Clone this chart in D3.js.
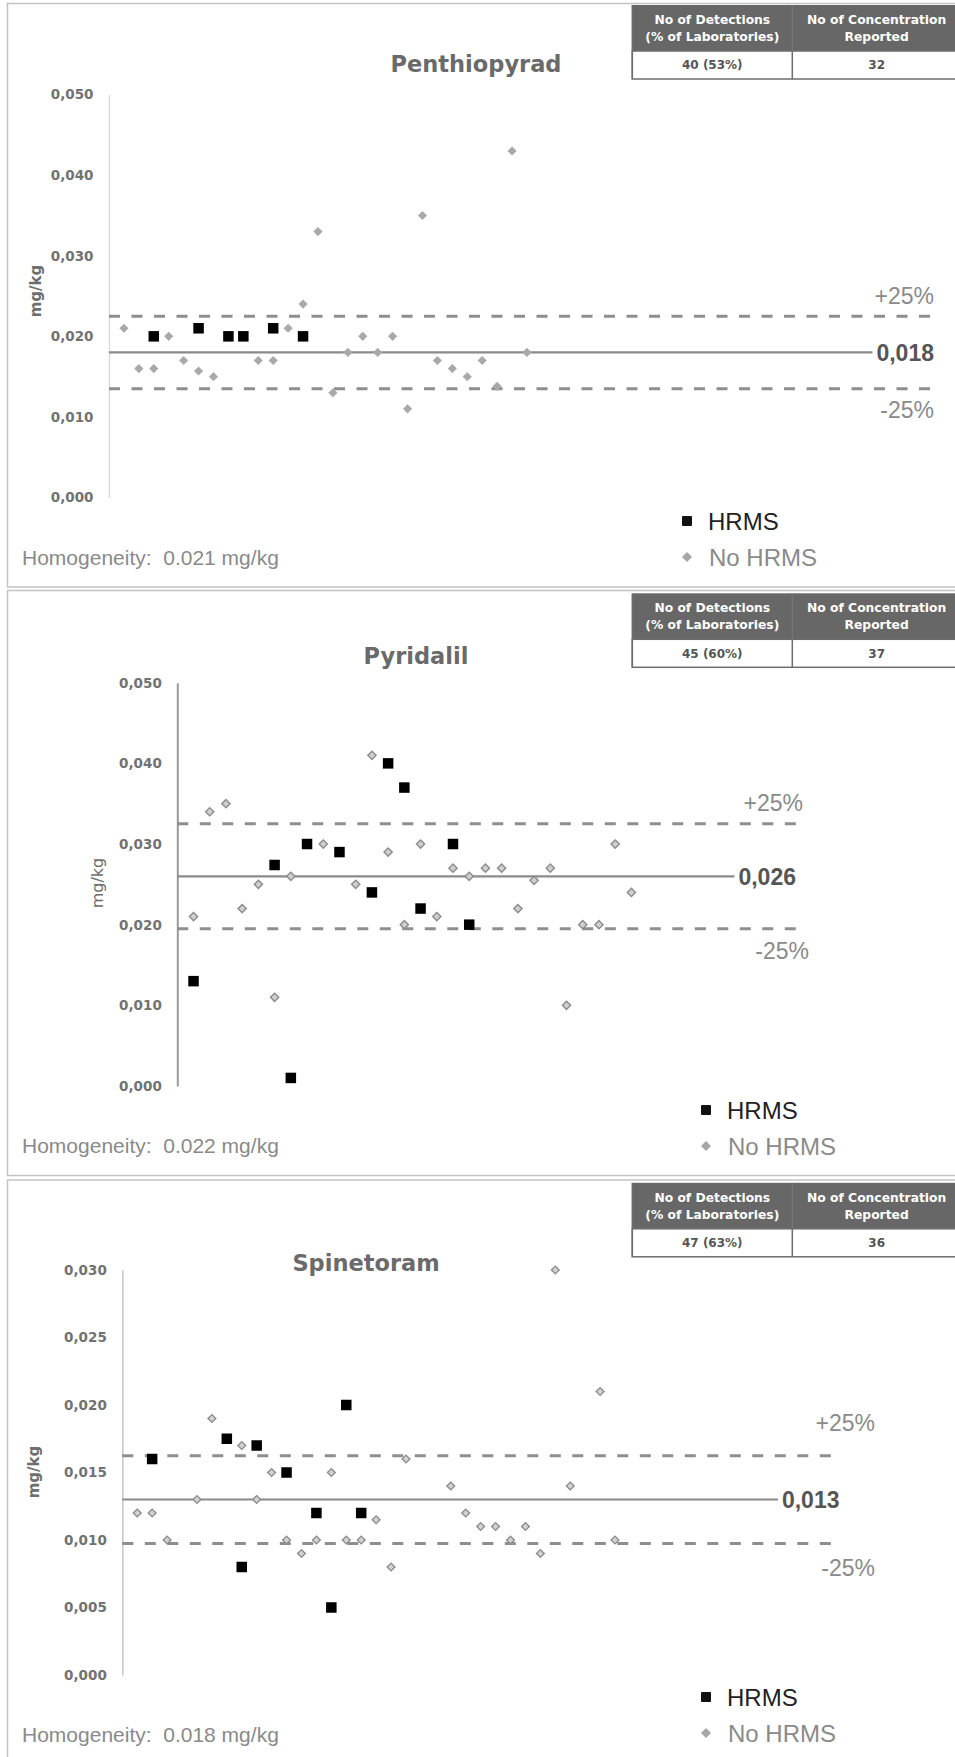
<!DOCTYPE html>
<html>
<head>
<meta charset="utf-8">
<script src="https://cdn.jsdelivr.net/npm/d3@7"></script>
<style>
body { margin: 0; background: #fff; }
svg { display: block; }
</style>
</head>
<body>
<div id="chart"></div>
<script>
var titles = ["Penthiopyrad", "Pyridalil", "Spinetoram"];
var assigned = [0.018, 0.026, 0.013];
var homogeneity = ["0.021", "0.022", "0.018"];
var detections = ["40 (53%)", "45 (60%)", "47 (63%)"];
var reported = ["32", "37", "36"];
var yMax = [0.05, 0.05, 0.03];
var yTicks = [
    [0, 0.01, 0.02, 0.03, 0.04, 0.05],
    [0, 0.01, 0.02, 0.03, 0.04, 0.05],
    [0, 0.005, 0.01, 0.015, 0.02, 0.025, 0.03]
];

var pentLabNo = [1, 2, 3, 4, 5, 6, 7, 10, 11, 12, 13, 14, 15, 16, 17, 18, 19, 20, 21, 22, 23, 24, 25, 26, 27, 28];
var pentValNo = [0.021, 0.016, 0.016, 0.020, 0.017, 0.0157, 0.015, 0.017, 0.017, 0.021, 0.024, 0.033, 0.013,
                 0.018, 0.020, 0.018, 0.020, 0.011, 0.035, 0.017, 0.016, 0.015, 0.017, 0.0138, 0.043, 0.018];
var pentLabHrms = [3, 6, 8, 9, 11, 13];
var pentValHrms = [0.020, 0.021, 0.020, 0.020, 0.021, 0.020];

var pyrLabNo = [1, 2, 3, 4, 5, 6, 7, 9, 11, 12, 13, 14, 15, 16, 17, 18, 19, 20, 21, 22, 23, 24, 25, 26, 27, 28];
var pyrValNo = [0.021, 0.034, 0.035, 0.022, 0.025, 0.011, 0.026, 0.030, 0.025, 0.041, 0.029, 0.020, 0.030,
                0.021, 0.027, 0.026, 0.027, 0.027, 0.022, 0.0255, 0.027, 0.010, 0.020, 0.020, 0.030, 0.024];
var pyrLabHrms = [1, 6, 7, 8, 10, 12, 13, 14, 15, 17, 18];
var pyrValHrms = [0.013, 0.0274, 0.001, 0.030, 0.029, 0.024, 0.040, 0.037, 0.022, 0.030, 0.020];

var spiLabNo = [1, 2, 3, 5, 6, 8, 9, 10, 11, 12, 13, 14, 15, 16, 17, 18, 19, 22, 23, 24, 25, 26, 27, 28, 29, 30, 32, 33];
var spiValNo = [0.012, 0.012, 0.010, 0.013, 0.019, 0.017, 0.013, 0.015, 0.010, 0.009, 0.010, 0.015, 0.010, 0.010,
                0.0115, 0.008, 0.016, 0.014, 0.012, 0.011, 0.011, 0.010, 0.011, 0.009, 0.030, 0.014, 0.021, 0.010];
var spiLabHrms = [2, 7, 8, 9, 11, 13, 14, 15, 16];
var spiValHrms = [0.016, 0.0175, 0.008, 0.017, 0.015, 0.012, 0.005, 0.020, 0.012];

var noHrms = [[pentLabNo, pentValNo], [pyrLabNo, pyrValNo], [spiLabNo, spiValNo]];
var hrms = [[pentLabHrms, pentValHrms], [pyrLabHrms, pyrValHrms], [spiLabHrms, spiValHrms]];

// page layout of each panel (pixels)
var layout = [
    {top: 3.5, bottom: 587, axisX: 109, xEnd: 930, xMaxLab: 55, yBottom: 497.5, yTop: 94.6,
     plusX: 934, plusDy: -20, meanX: 934, minusX: 934, minusDy: 21, titleX: 476, titleY: 64,
     legendX: 687, legendY: 521, homY: 557, ylabX: 36, ylabY: 291, ylabWeight: "bold",
     axisColor: "#dcdcdc", axisWidth: 1.5, dFill: "#a9a9a9", dStroke: "none", dSize: 42},
    {top: 590.5, bottom: 1175.5, axisX: 177.3, xEnd: 803.3, xMaxLab: 38.6, yBottom: 1086, yTop: 682.7,
     plusX: 803, plusDy: -21, meanX: 796, minusX: 809, minusDy: 22, titleX: 416, titleY: 656,
     legendX: 706, legendY: 1110, homY: 1145, ylabX: 97, ylabY: 883, ylabWeight: "normal",
     axisColor: "#9a9a9a", axisWidth: 2, dFill: "#cfcfcf", dStroke: "#8c8c8c", dSize: 34},
    {top: 1180, bottom: 1765, axisX: 122.3, xEnd: 839, xMaxLab: 48, yBottom: 1675, yTop: 1270,
     plusX: 875, plusDy: -33, meanX: 839.5, minusX: 875, minusDy: 24, titleX: 366, titleY: 1263,
     legendX: 706, legendY: 1697, homY: 1734, ylabX: 33.5, ylabY: 1472, ylabWeight: "bold",
     axisColor: "#c4c4c4", axisWidth: 1.5, dFill: "#d2d2d2", dStroke: "#8c8c8c", dSize: 30}
];

var W = 955, H = 1757;
var svg = d3.select("#chart").append("svg")
    .attr("width", W)
    .attr("height", H);

var fmtTick = function(v) { return d3.format(".3f")(v).replace(".", ","); };
var gothic = "'DejaVu Sans', sans-serif";
var arial = "'Liberation Sans', Arial, sans-serif";
var tableLeft = 632.3, tableMid = 792.3, tableRight = 961;

layout.forEach(function(L, p) {
    var g = svg.append("g");

    // panel frame
    g.append("rect")
        .attr("x", 7.5).attr("y", L.top)
        .attr("width", W + 10).attr("height", L.bottom - L.top)
        .attr("fill", "none").attr("stroke", "#c3c3c3").attr("stroke-width", 1.5);

    var x = d3.scaleLinear().domain([0, L.xMaxLab]).range([L.axisX, L.xEnd]);
    var y = d3.scaleLinear().domain([0, yMax[p]]).range([L.yBottom, L.yTop]);

    // y axis: line + tick labels only
    var yAxis = d3.axisLeft(y).tickValues(yTicks[p]).tickFormat(fmtTick).tickSize(0).tickPadding(15.5);
    var ax = g.append("g").attr("transform", "translate(" + L.axisX + ",0)").call(yAxis);
    ax.select(".domain").attr("stroke", L.axisColor).attr("stroke-width", L.axisWidth);
    ax.selectAll("text")
        .attr("font-family", gothic).attr("font-weight", "bold")
        .attr("font-size", "13.5px").attr("fill", "#727272");

    g.append("text")
        .attr("transform", "translate(" + L.ylabX + "," + L.ylabY + ") rotate(-90)")
        .attr("text-anchor", "middle").attr("dy", "0.35em")
        .attr("font-family", gothic).attr("font-weight", L.ylabWeight)
        .attr("font-size", p == 1 ? "16px" : "15px").attr("fill", "#6e6e6e")
        .text("mg/kg");

    // title
    g.append("text")
        .attr("x", L.titleX).attr("y", L.titleY).attr("dy", "0.35em")
        .attr("text-anchor", "middle")
        .attr("font-family", gothic).attr("font-weight", "bold")
        .attr("font-size", "22.5px").attr("fill", "#6a6a6a")
        .text(titles[p]);

    // assigned value and +/-25% limits
    var mean = assigned[p];
    var up = mean * 1.25, lo = mean * 0.75;
    [up, lo].forEach(function(v) {
        g.append("line")
            .attr("x1", x(0)).attr("x2", L.xEnd)
            .attr("y1", y(v)).attr("y2", y(v))
            .attr("stroke", "#8e8e8e").attr("stroke-width", 3)
            .attr("stroke-dasharray", "11,11.5");
    });

    var meanLabel = g.append("text")
        .attr("x", L.meanX).attr("y", y(mean)).attr("dy", "0.36em")
        .attr("text-anchor", "end")
        .attr("font-family", arial).attr("font-weight", "bold")
        .attr("font-size", "23px").attr("fill", "#555")
        .text(fmtTick(mean));
    var meanStart = L.meanX - meanLabel.node().getComputedTextLength() - 4;

    g.append("line")
        .attr("x1", x(0)).attr("x2", meanStart)
        .attr("y1", y(mean)).attr("y2", y(mean))
        .attr("stroke", "#8a8a8a").attr("stroke-width", 2.2);

    g.append("text")
        .attr("x", L.plusX).attr("y", y(up) + L.plusDy).attr("dy", "0.36em")
        .attr("text-anchor", "end")
        .attr("font-family", arial).attr("font-size", "23px").attr("fill", "#8a8a8a")
        .text("+25%");
    g.append("text")
        .attr("x", L.minusX).attr("y", y(lo) + L.minusDy).attr("dy", "0.36em")
        .attr("text-anchor", "end")
        .attr("font-family", arial).attr("font-size", "23px").attr("fill", "#8a8a8a")
        .text("-25%");

    // points
    var diamond = d3.symbol().type(d3.symbolSquare).size(L.dSize);
    var nd = d3.zip(noHrms[p][0], noHrms[p][1]);
    g.selectAll("path.nohrms")
        .data(nd)
        .enter()
        .append("path")
        .attr("class", "nohrms")
        .attr("d", diamond)
        .attr("transform", function(d) { return "translate(" + x(d[0]) + "," + y(d[1]) + ") rotate(45)"; })
        .attr("fill", L.dFill)
        .attr("stroke", L.dStroke)
        .attr("stroke-width", 1.4);

    var hd = d3.zip(hrms[p][0], hrms[p][1]);
    g.selectAll("rect.hrms")
        .data(hd)
        .enter()
        .append("rect")
        .attr("class", "hrms")
        .attr("x", function(d) { return x(d[0]) - 5.25; })
        .attr("y", function(d) { return y(d[1]) - 5.25; })
        .attr("width", 10.5).attr("height", 10.5)
        .attr("fill", "#000");

    // legend
    g.append("rect")
        .attr("x", L.legendX - 5).attr("y", L.legendY - 5)
        .attr("width", 10).attr("height", 10).attr("rx", 1)
        .attr("fill", "#111");
    g.append("text")
        .attr("x", L.legendX + 21).attr("y", L.legendY).attr("dy", "0.36em")
        .attr("font-family", arial).attr("font-size", "24px").attr("fill", "#222")
        .text("HRMS");
    g.append("path")
        .attr("d", d3.symbol().type(d3.symbolSquare).size(50))
        .attr("transform", "translate(" + L.legendX + "," + (L.legendY + 36) + ") rotate(45)")
        .attr("fill", "#a6a6a6");
    g.append("text")
        .attr("x", L.legendX + 22).attr("y", L.legendY + 36).attr("dy", "0.36em")
        .attr("font-family", arial).attr("font-size", "24px").attr("fill", "#8a8a8a")
        .text("No HRMS");

    g.append("text")
        .attr("x", 22).attr("y", L.homY).attr("dy", "0.36em")
        .attr("font-family", arial).attr("font-size", "21px").attr("fill", "#8a8a8a")
        .style("white-space", "pre")
        .text("Homogeneity:  " + homogeneity[p] + " mg/kg");

    // summary table
    var tt = L.top + (p == 0 ? 1.5 : 2.8);
    var tab = g.append("g");
    tab.append("rect")
        .attr("x", tableLeft).attr("y", tt)
        .attr("width", tableRight - tableLeft).attr("height", 46)
        .attr("fill", "#676767");
    tab.append("line")
        .attr("x1", tableMid).attr("x2", tableMid).attr("y1", tt).attr("y2", tt + 46)
        .attr("stroke", "#7a7a7a").attr("stroke-width", 1);
    tab.append("rect")
        .attr("x", tableLeft).attr("y", tt + 46)
        .attr("width", tableRight - tableLeft).attr("height", 28)
        .attr("fill", "#fff").attr("stroke", "#6d6d6d").attr("stroke-width", 1.5);
    tab.append("line")
        .attr("x1", tableMid).attr("x2", tableMid).attr("y1", tt + 46).attr("y2", tt + 74)
        .attr("stroke", "#6d6d6d").attr("stroke-width", 1.5);
    tab.append("line")
        .attr("x1", tableLeft).attr("x2", tableLeft).attr("y1", tt).attr("y2", tt + 74)
        .attr("stroke", "#6d6d6d").attr("stroke-width", 1.5);

    var c1 = (tableLeft + tableMid) / 2, c2 = (tableMid + tableRight) / 2;
    var head = [[c1, "No of Detections", "(% of Laboratories)"], [c2, "No of Concentration", "Reported"]];
    head.forEach(function(hh) {
        tab.append("text")
            .attr("x", hh[0]).attr("y", tt + 14.5).attr("dy", "0.36em")
            .attr("text-anchor", "middle")
            .attr("font-family", gothic).attr("font-weight", "bold")
            .attr("font-size", "12.3px").attr("fill", "#fff")
            .text(hh[1]);
        tab.append("text")
            .attr("x", hh[0]).attr("y", tt + 31.5).attr("dy", "0.36em")
            .attr("text-anchor", "middle")
            .attr("font-family", gothic).attr("font-weight", "bold")
            .attr("font-size", "12.3px").attr("fill", "#fff")
            .text(hh[2]);
    });
    [[c1, detections[p]], [c2, reported[p]]].forEach(function(cc) {
        tab.append("text")
            .attr("x", cc[0]).attr("y", tt + 60).attr("dy", "0.36em")
            .attr("text-anchor", "middle")
            .attr("font-family", gothic).attr("font-weight", "bold")
            .attr("font-size", "12px").attr("fill", "#555")
            .text(cc[1]);
    });
});
</script>
</body>
</html>
